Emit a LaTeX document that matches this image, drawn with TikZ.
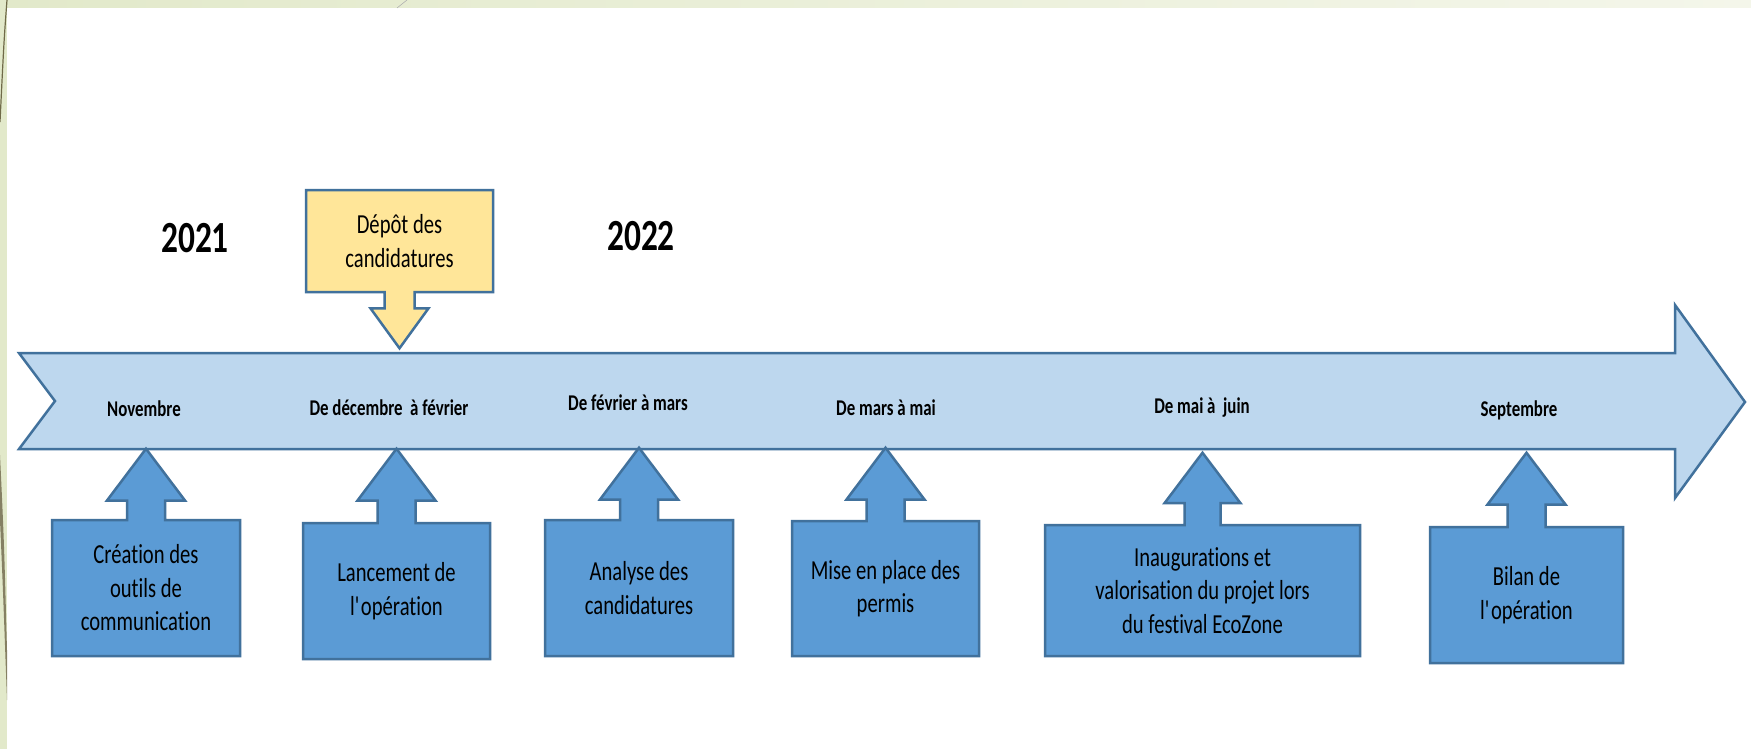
\documentclass[tikz,border=0pt]{standalone}
\usepackage{fontspec}
\setmainfont{Carlito}[FakeStretch=0.75, Ligatures={NoCommon}]
\usetikzlibrary{shapes.arrows}
\definecolor{bordbleu}{HTML}{41719C}
\definecolor{bleuclair}{HTML}{BDD7EE}
\definecolor{bleu}{HTML}{5B9BD5}
\definecolor{jaune}{HTML}{FFE699}
\definecolor{vertpale}{HTML}{E2E9CA}
\definecolor{vertclair}{HTML}{F4F6EA}
\definecolor{olive}{HTML}{6F6A48}
\tikzset{
    fleche/.style={fill=bleuclair, draw=bordbleu, line width=2.5pt, line join=miter},
    mois/.style={anchor=base, font=\fontsize{22.5}{27}\selectfont\bfseries},
    annee/.style={anchor=base, font=\fontsize{44.5}{53}\selectfont\bfseries},
    etape/.style={arrow box, fill=bleu, draw=bordbleu, line width=2.5pt, align=center,
        inner sep=0pt, font=\fontsize{27.5}{33.5}\selectfont,
        arrow box shaft width=38pt, arrow box head extend=20pt, arrow box tip angle=74,
        minimum height=136pt}
}
\begin{document}
\begin{tikzpicture}[x=1pt,y=-1pt]
        \useasboundingbox (0,0) rectangle (1751,749);
        %Fond de la diapo
        \begin{scope}
            \fill[white] (0,0) rectangle (1751,749);
            \shade[left color=vertpale, right color=vertclair] (0,0) rectangle (1751,8);
            \fill[vertpale] (0,0) rectangle (7,749);
            \draw[olive, line width=1.2pt] (7,0) .. controls (4,40) .. (0,122);
            \fill[olive!85] (0,455) .. controls (4,540) .. (7,650) -- (7,700) .. controls (3,590) .. (0,520) -- cycle;
            \draw[gray!60, line width=0.6pt] (397,8) -- (407,0);
        \end{scope}
        %Fleche du temps
        \draw[fleche] (19,353) -- (1675,353) -- (1675,305) -- (1745,402) -- (1675,498)
            -- (1675,449) -- (19,449) -- (55,401) -- cycle;
        \foreach \n/\x/\y/\txt in {1/144/416/Novembre, 2/389/415/De décembre ~à février,
            3/628/410/De février à mars, 4/886/415/De mars à mai,
            5/1202/413/De mai à ~juin, 6/1519/416/Septembre}
        \node[mois] (m\n) at (\x,\y) {\txt};
        %Annees
        \node[annee] (an1) at (195,252) {2021};
        \node[annee] (an2) at (641,250) {2022};
        %Depot
        \node[etape, fill=jaune, minimum width=187pt, minimum height=102pt,
            arrow box shaft width=30pt, arrow box head extend=14pt, arrow box tip angle=72,
            arrow box arrows={south:55pt from border}] (depot) at (399.5,241) {Dépôt des\\candidatures};
        %Etapes
        \node[etape, minimum width=188pt, arrow box arrows={north:70pt from border}]
            (creation) at (146,588) {Création des\\outils de\\communication};
        \node[etape, minimum width=187pt, arrow box arrows={north:73pt from border}]
            (lancement) at (396.5,591) {Lancement de\\l\textquotesingle opération};
        \node[etape, minimum width=188pt, arrow box arrows={north:71pt from border}]
            (analyse) at (639,588) {Analyse des\\candidatures};
        \node[etape, minimum width=187pt, minimum height=135pt, arrow box arrows={north:72pt from border}]
            (permis) at (885.5,588.5) {Mise en place des\\permis};
        \node[etape, minimum width=315pt, minimum height=131pt, arrow box shaft width=36pt,
            arrow box arrows={north:71pt from border}]
            (inaug) at (1202.5,590.5) {Inaugurations et\\valorisation du projet lors\\du festival EcoZone};
        \node[etape, minimum width=193pt, arrow box arrows={north:73pt from border}]
            (bilan) at (1526.5,595) {Bilan de\\l\textquotesingle opération};
    \end{tikzpicture}
\end{document}
